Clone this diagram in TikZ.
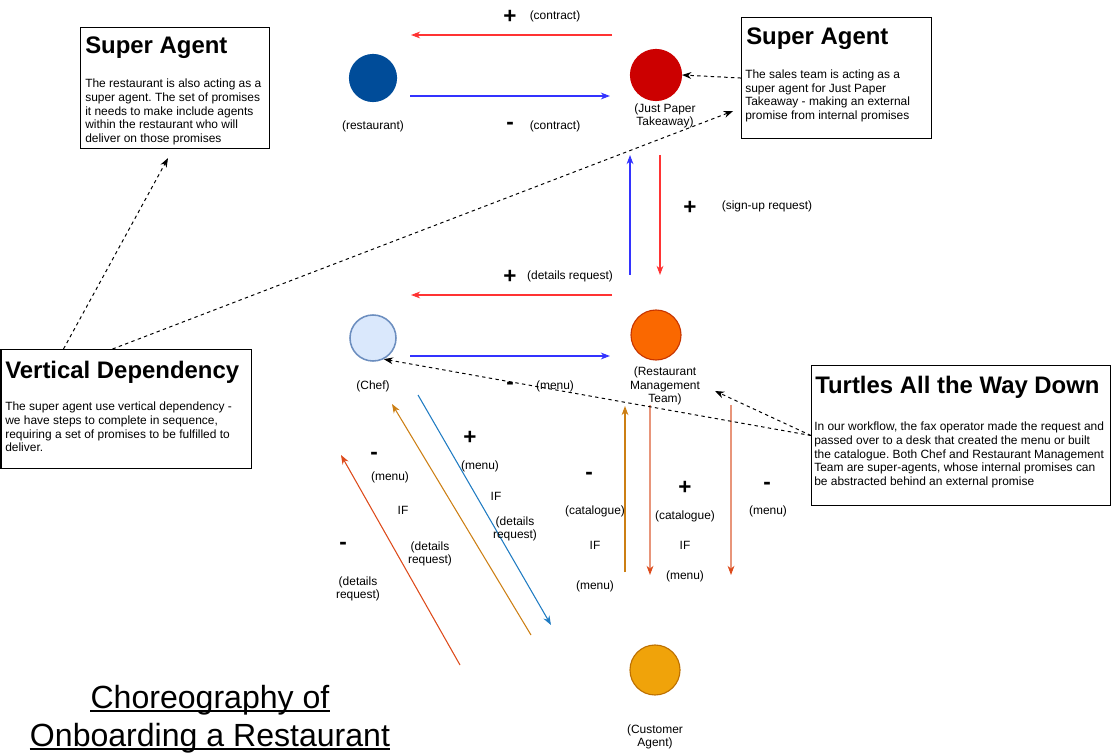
\documentclass[tikz,border=0pt]{standalone}
\usepackage{fontspec}
\setmainfont{Liberation Sans}
\frenchspacing
\usetikzlibrary{arrows.meta, calc}
\definecolor{restblue}{HTML}{004C99}
\definecolor{jptred}{HTML}{CC0000}
\definecolor{chefsoft}{HTML}{DAE8FC}
\definecolor{chefline}{HTML}{6C8EBF}
\definecolor{rmtorange}{HTML}{FA6800}
\definecolor{rmtline}{HTML}{C73500}
\definecolor{custamber}{HTML}{F0A30A}
\definecolor{custline}{HTML}{BD7000}
\definecolor{pred}{HTML}{FF3333}
\definecolor{pblue}{HTML}{3333FF}
\definecolor{dblue}{HTML}{1F7BC2}
\definecolor{dorange}{HTML}{CC7F14}
\definecolor{drust}{HTML}{DD4A1A}
\definecolor{dsalmon}{HTML}{E8957A}
\tikzset{
  >=Stealth,
  font=\fontsize{8.5}{9.7}\selectfont,
  agent/.style={circle, inner sep=0pt, line width=0.8pt},
  prom/.style={line width=0.75pt, draw=#1, -{Stealth[length=2.3mm,width=1.7mm]}},
  promsoft/.style={line width=0.75pt, draw=dsalmon, -{Stealth[length=2.3mm,width=1.7mm,color=drust]}},
  dep/.style={line width=0.7pt, dash pattern=on 2.4pt off 2.4pt, -{Stealth[length=2.3mm,width=1.7mm]}},
  note/.style={draw=black, line width=0.75pt, inner sep=0pt, anchor=north west},
  ttl/.style={font=\fontsize{17}{20}\selectfont\bfseries, inner sep=0pt, anchor=west},
  body/.style={align=left, inner sep=0pt, anchor=west},
  sign/.style={font=\fontsize{16}{16}\selectfont\bfseries, inner sep=0pt},
  lbl/.style={align=center, inner sep=0pt},
  headline/.style={font=\fontsize{22.8}{27}\selectfont, inner sep=0pt, anchor=base}
}
\begin{document}
\begin{tikzpicture}[x=0.025cm, y=-0.025cm]
  \useasboundingbox (0,0) rectangle (1111,753);

  % agents
  \node[agent, fill=restblue, draw=restblue, minimum size=1.175cm] (rest) at (373,78) {};
  \node[agent, fill=jptred, draw=jptred, minimum size=1.275cm] (jpt) at (656,75) {};
  \node[agent, fill=chefsoft, draw=chefline, line width=1.1pt, minimum size=1.15cm] (chef) at (373,338) {};
  \node[agent, fill=rmtorange, draw=rmtline, minimum size=1.25cm] (rmt) at (656,335) {};
  \node[agent, fill=custamber, draw=custline, minimum size=1.25cm] (cust) at (655,670) {};
  \node[lbl] (restlbl) at (373,126) {(restaurant)};
  \node[lbl] (jptlbl) at (665,116) {(Just Paper\\Takeaway)};
  \node[lbl] (cheflbl) at (373,386) {(Chef)};
  \node[lbl] (rmtlbl) at (665,386) {(Restaurant\\Management\\Team)};
  \node[lbl] (custlbl) at (655,737) {(Customer\\Agent)};

  % notes
  \node[note, minimum width=4.725cm, minimum height=3.025cm] (sa1) at (80,27) {};
  \node[ttl] (sa1t) at (85,48) {Super Agent};
  \node[body] (sa1b) at (85,112) {The restaurant is also acting as a\\super agent. The set of promises\\it needs to make include agents\\within the restaurant who will\\deliver on those promises};
  \node[note, minimum width=4.75cm, minimum height=3.025cm] (sa2) at (741,17) {};
  \node[ttl] (sa2t) at (746,39) {Super Agent};
  \node[body] (sa2b) at (745,96) {The sales team is acting as a\\super agent for Just Paper\\Takeaway - making an external\\promise from internal promises};
  \node[note, minimum width=6.25cm, minimum height=2.975cm] (vd) at (0.5,349) {};
  \node[ttl] (vdt) at (5,372) {Vertical Dependency};
  \node[body] (vdb) at (5,427) {The super agent use vertical dependency -\\we have steps to complete in sequence,\\requiring a set of promises to be fulfilled to\\deliver.};
  \node[note, minimum width=7.475cm, minimum height=3.5cm] (tu) at (811,365) {};
  \node[ttl] (tut) at (815,387) {Turtles All the Way Down};
  \node[body] (tub) at (814,455) {In our workflow, the fax operator made the request and\\passed over to a desk that created the menu or built\\the catalogue. Both Chef and Restaurant Management\\Team are super-agents, whose internal promises can\\be abstracted behind an external promise};

  % promise ends
  \coordinate (ctPa) at (612,35);  \coordinate (ctPb) at (411,35);
  \coordinate (ctMa) at (410,96);  \coordinate (ctMb) at (610,96);
  \coordinate (suMa) at (630,275); \coordinate (suMb) at (630,155);
  \coordinate (suPa) at (660,155); \coordinate (suPb) at (660,275);
  \coordinate (drPa) at (612,295); \coordinate (drPb) at (411,295);
  \coordinate (mnMa) at (410,356); \coordinate (mnMb) at (610,356);
  \coordinate (dgBa) at (418,395); \coordinate (dgBb) at (551,625);
  \coordinate (dgOa) at (531,635); \coordinate (dgOb) at (392,404);
  \coordinate (dgRa) at (460,665); \coordinate (dgRb) at (341,455);
  \coordinate (vcOa) at (625,572); \coordinate (vcOb) at (625,406);
  \coordinate (vcSa) at (650,405); \coordinate (vcSb) at (650,575);
  \coordinate (vmSa) at (731,405); \coordinate (vmSb) at (731,575);

  \draw[prom=pred] (ctPa) -- (ctPb);
  \draw[prom=pblue] (ctMa) -- (ctMb);
  \draw[prom=pblue] (suMa) -- (suMb);
  \draw[prom=pred] (suPa) -- (suPb);
  \draw[prom=pred] (drPa) -- (drPb);
  \draw[prom=pblue] (mnMa) -- (mnMb);
  \draw[prom=dblue] (dgBa) -- (dgBb);
  \draw[prom=dorange] (dgOa) -- (dgOb);
  \draw[prom=drust] (dgRa) -- (dgRb);
  \draw[prom=dorange] (vcOa) -- (vcOb);
  \draw[promsoft] (vcSa) -- (vcSb);
  \draw[promsoft] (vmSa) -- (vmSb);

  % promise labels
  \node[sign] (s1) at (510,17) {+};  \node[lbl] (l1) at (555,16) {(contract)};
  \node[sign] (s2) at (510,126) {-}; \node[lbl] (l2) at (555,126) {(contract)};
  \node[sign] (s3) at (690,208) {+}; \node[lbl] (l3) at (767,206) {(sign-up request)};
  \node[sign] (s4) at (510,277) {+}; \node[lbl] (l4) at (570,276) {(details request)};
  \node[sign] (s5) at (510,386) {-}; \node[lbl] (l5) at (555,386) {(menu)};
  \node[sign] (s6) at (470,438) {+};
  \node[lbl] (l6a) at (480,466) {(menu)};
  \node[lbl] (l6b) at (496,496) {IF};
  \node[lbl] (l6c) at (515,529) {(details\\request)};
  \node[sign] (s7) at (374,456) {-};
  \node[lbl] (l7a) at (390,477) {(menu)};
  \node[lbl] (l7b) at (403,510) {IF};
  \node[lbl] (l7c) at (430,554) {(details\\request)};
  \node[sign] (s8) at (343,546) {-};
  \node[lbl] (l8) at (358,589) {(details\\request)};
  \node[sign] (s9) at (589,476) {-};
  \node[lbl] (l9a) at (595,511) {(catalogue)};
  \node[lbl] (l9b) at (595,545) {IF};
  \node[lbl] (l9c) at (595,586) {(menu)};
  \node[sign] (s10) at (685,488) {+};
  \node[lbl] (l10a) at (685,516) {(catalogue)};
  \node[lbl] (l10b) at (685,545) {IF};
  \node[lbl] (l10c) at (685,576) {(menu)};
  \node[sign] (s11) at (767,486) {-};
  \node[lbl] (l11) at (768,511) {(menu)};

  % dependencies
  \coordinate (rmtpt) at (715,391);
  \draw[dep] (sa2.west) -- (jpt.east);
  \draw[dep] ($(vd.north west)+(63,0)$) -- ($(sa1.south west)+(88,9)$);
  \draw[dep] ($(vd.north west)+(112,0)$) -- ($(sa2.south west)+(-8,-28)$);
  \draw[dep] (tu.west) -- (chef.-63);
  \draw[dep] (tu.west) -- (rmtpt);

  % headline
  \node[headline] (title1) at (210,708) {Choreography of};
  \node[headline] (title2) at (210,746) {Onboarding a Restaurant};
  \draw[line width=1.1pt] ($(title1.base west)+(0,3)$) -- ($(title1.base east)+(0,3)$);
  \draw[line width=1.1pt] ($(title2.base west)+(0,3)$) -- ($(title2.base east)+(0,3)$);
\end{tikzpicture}
\end{document}
